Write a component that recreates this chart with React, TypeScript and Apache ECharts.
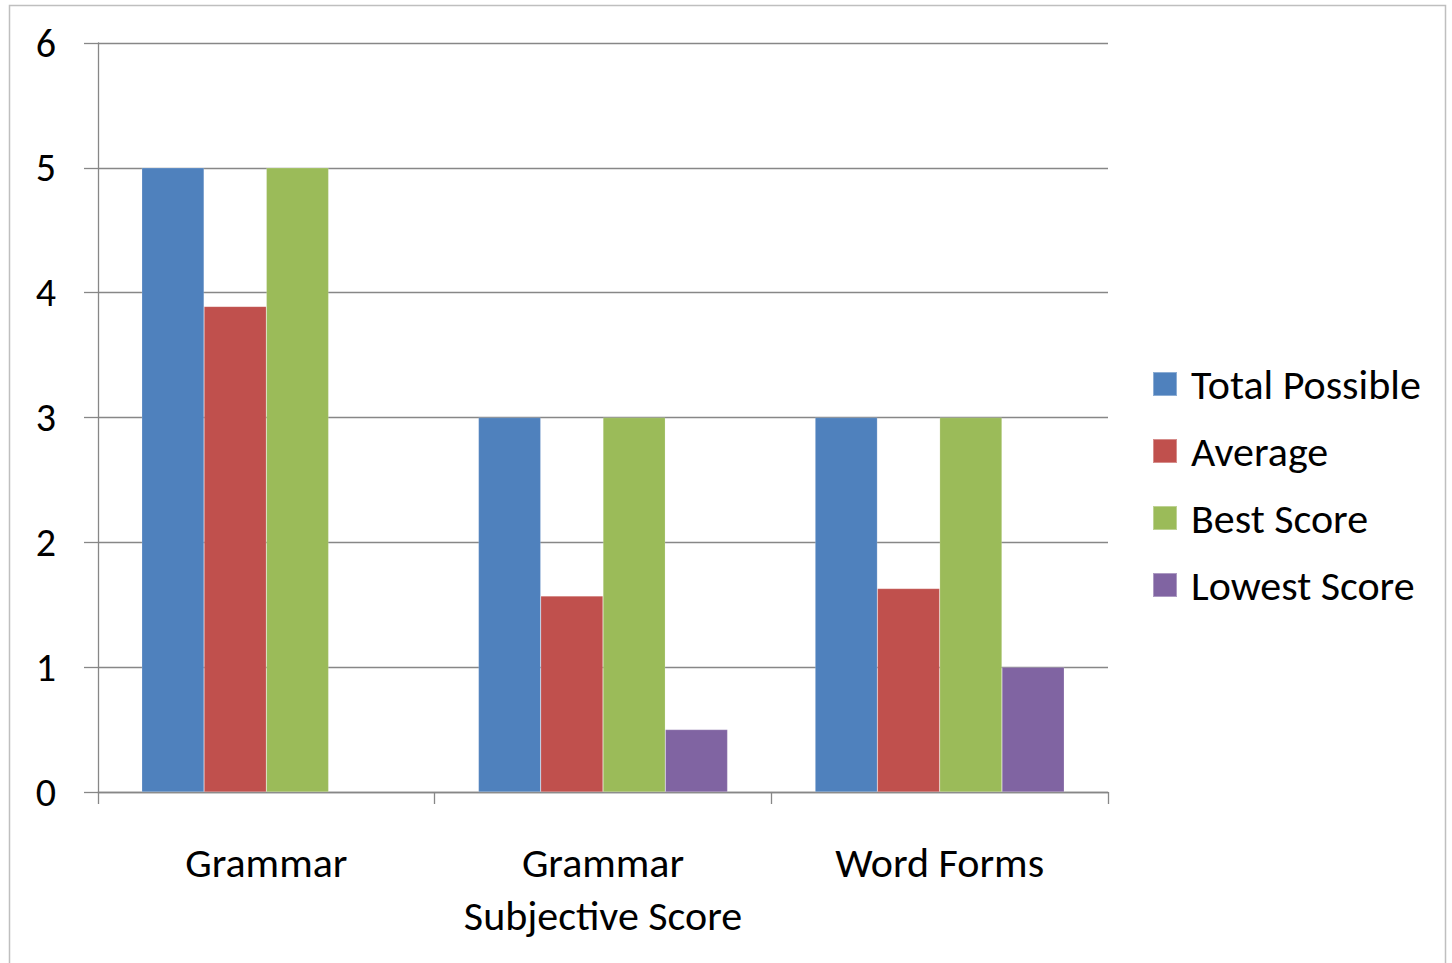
import React, { useEffect, useRef } from "react";
import * as echarts from "echarts";

const categories = ["Grammar", "Grammar\nSubjective Score", "Word Forms"];
const totalPossible = [5, 3, 3];
const average = [3.89, 1.57, 1.63];
const bestScore = [5, 3, 3];
const lowestScore: (number | null)[] = [null, 0.5, 1];
const yTicks = { min: 0, max: 6, interval: 1 };

const FONT = "Calibri, Carlito, Lato, 'Open Sans', sans-serif";

export default function App() {
  const ref = useRef<HTMLDivElement>(null);
  useEffect(() => {
    document.body.style.margin = "0";
    const chart = echarts.init(ref.current!, null, { renderer: "svg" });
    const barStyle = (color: string) => ({ color, borderColor: "rgba(255,255,255,0.35)", borderWidth: 0.5 });
    chart.setOption({
      animation: false,
      backgroundColor: "#ffffff",
      textStyle: { fontFamily: FONT },
      graphic: [
        {
          type: "rect",
          shape: { x: 9.5, y: 5.5, width: 1436, height: 980 },
          style: { fill: "none", stroke: "#bfbfbf", lineWidth: 1.5 },
          silent: true,
          z: -1,
        },
      ],
      grid: { left: 98, right: 344, top: 43, bottom: 171, containLabel: false },
      legend: {
        orient: "vertical",
        left: 1152,
        top: 363,
        padding: 0,
        itemWidth: 24,
        itemHeight: 24,
        itemGap: 25,
        icon: "rect",
        textStyle: { fontFamily: FONT, fontSize: 42, color: "#000", padding: [0, 0, 0, 9] },
        data: ["Total Possible", "Average", "Best Score", "Lowest Score"],
      },
      xAxis: {
        type: "category",
        data: categories,
        boundaryGap: true,
        axisLine: { lineStyle: { color: "#878787", width: 1.3 } },
        axisTick: { show: true, length: 12, inside: false, lineStyle: { color: "#878787", width: 1.3 } },
        axisLabel: {
          fontFamily: FONT,
          fontSize: 42,
          color: "#000",
          margin: 44,
          lineHeight: 53,
          interval: 0,
        },
        splitLine: { show: false },
      },
      yAxis: {
        type: "value",
        min: yTicks.min,
        max: yTicks.max,
        interval: yTicks.interval,
        axisLine: { show: true, lineStyle: { color: "#878787", width: 1.3 } },
        axisTick: { show: true, length: 14, inside: false, lineStyle: { color: "#878787", width: 1.3 } },
        axisLabel: { fontFamily: FONT, fontSize: 40, color: "#000", margin: 42 },
        splitLine: { show: true, lineStyle: { color: "#878787", width: 1.3 } },
      },
      series: [
        { name: "Total Possible", type: "bar", data: totalPossible, barGap: "0%", barCategoryGap: "26%", itemStyle: barStyle("#4F81BD") },
        { name: "Average", type: "bar", data: average, barGap: "0%", barCategoryGap: "26%", itemStyle: barStyle("#C0504D") },
        { name: "Best Score", type: "bar", data: bestScore, barGap: "0%", barCategoryGap: "26%", itemStyle: barStyle("#9BBB59") },
        { name: "Lowest Score", type: "bar", data: lowestScore, barGap: "0%", barCategoryGap: "26%", itemStyle: barStyle("#8064A2") },
      ],
    });
    return () => chart.dispose();
  }, []);
  return <div ref={ref} style={{ position: "absolute", left: 0, top: 0, width: 1452, height: 963 }} />;
}
